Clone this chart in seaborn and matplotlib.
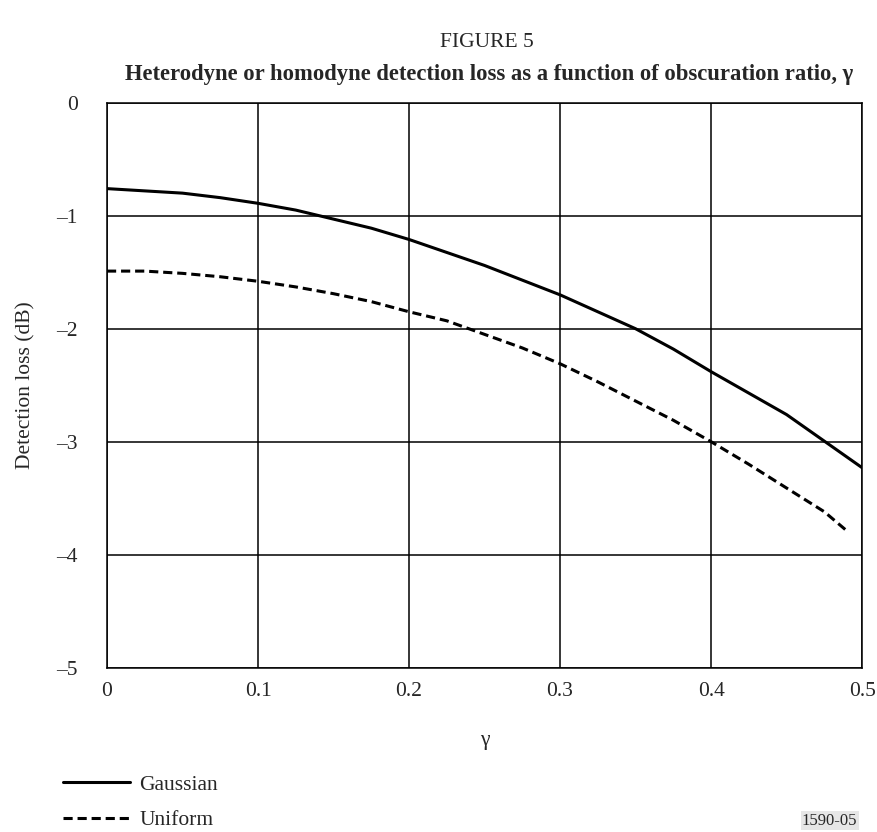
import matplotlib
matplotlib.use('Agg')
import matplotlib.pyplot as plt
import seaborn as sns
import pandas as pd

# values
gauss_x = [0, 0.05, 0.075, 0.1, 0.125, 0.15, 0.175, 0.2, 0.25, 0.3, 0.35, 0.375, 0.4, 0.425, 0.45, 0.5]
gauss_y = [-0.76, -0.80, -0.84, -0.89, -0.95, -1.03, -1.11, -1.21, -1.44, -1.70, -2.00, -2.18, -2.38, -2.57, -2.76, -3.23]

unif_x = [0, 0.025, 0.05, 0.075, 0.1, 0.125, 0.15, 0.175, 0.2, 0.225, 0.25, 0.275, 0.3,
          0.325, 0.35, 0.375, 0.4, 0.425, 0.45, 0.475, 0.49]
unif_y = [-1.49, -1.49, -1.51, -1.54, -1.58, -1.63, -1.69, -1.76, -1.85, -1.93, -2.05, -2.17, -2.31,
          -2.47, -2.64, -2.81, -3.00, -3.20, -3.41, -3.62, -3.79]

x_ticks = [0, 0.1, 0.2, 0.3, 0.4, 0.5]
x_tick_labels = ['0', '0.1', '0.2', '0.3', '0.4', '0.5']
y_ticks = [0, -1, -2, -3, -4, -5]
y_tick_labels = ['0', '\u20131', '\u20132', '\u20133', '\u20134', '\u20135']

sns.set_style('white')
plt.rcParams['font.family'] = ['Liberation Serif', 'DejaVu Serif']

df_g = pd.DataFrame({'gamma': gauss_x, 'loss': gauss_y})
df_u = pd.DataFrame({'gamma': unif_x, 'loss': unif_y})

fig = plt.figure(figsize=(8.77, 8.32), dpi=100)
ax = fig.add_axes([0.122, 0.1975, 0.861, 0.679])

sns.lineplot(data=df_g, x='gamma', y='loss', ax=ax, color='black', linewidth=2.2,
             label='Gaussian', sort=False)
sns.lineplot(data=df_u, x='gamma', y='loss', ax=ax, color='black', linewidth=2.2,
             linestyle=(0, (3, 1.6)), label='Uniform', sort=False)

ax.set_xlim(0, 0.5)
ax.set_ylim(-5, 0)
ax.set_xticks(x_ticks)
ax.set_xticklabels(x_tick_labels)
ax.set_yticks(y_ticks)
ax.set_yticklabels(y_tick_labels)
ax.tick_params(labelsize=15.5, length=0)
ax.tick_params(axis='x', pad=10)
ax.tick_params(axis='y', pad=21)
ax.grid(True, color='black', linewidth=1.1)
for s in ax.spines.values():
    s.set_color('black')
    s.set_linewidth(1.1)

ax.set_xlabel('\u03b3', fontsize=15.5, labelpad=22)
ax.set_ylabel('Detection loss (dB)', fontsize=15.5, labelpad=15)

handles, labels = ax.get_legend_handles_labels()
ax.get_legend().remove()
fig.legend(handles, labels, loc='upper left', bbox_to_anchor=(0.072, 0.069),
           frameon=False, fontsize=15.5, handlelength=3.1, handletextpad=0.45,
           borderaxespad=0, borderpad=0, labelspacing=0.72)

fig.text(0.555, 0.949, 'FIGURE 5', ha='center', va='center', fontsize=15.5)
fig.text(0.558, 0.91, 'Heterodyne or homodyne detection loss as a function of obscuration ratio, \u03b3',
         ha='center', va='center', fontsize=16.3, fontweight='bold')
fig.text(0.946, 0.004, '1590-05', ha='center', va='bottom', fontsize=12,
         bbox=dict(facecolor='#e6e6e6', edgecolor='none', pad=1))

fig.savefig('out.png', dpi=100)
